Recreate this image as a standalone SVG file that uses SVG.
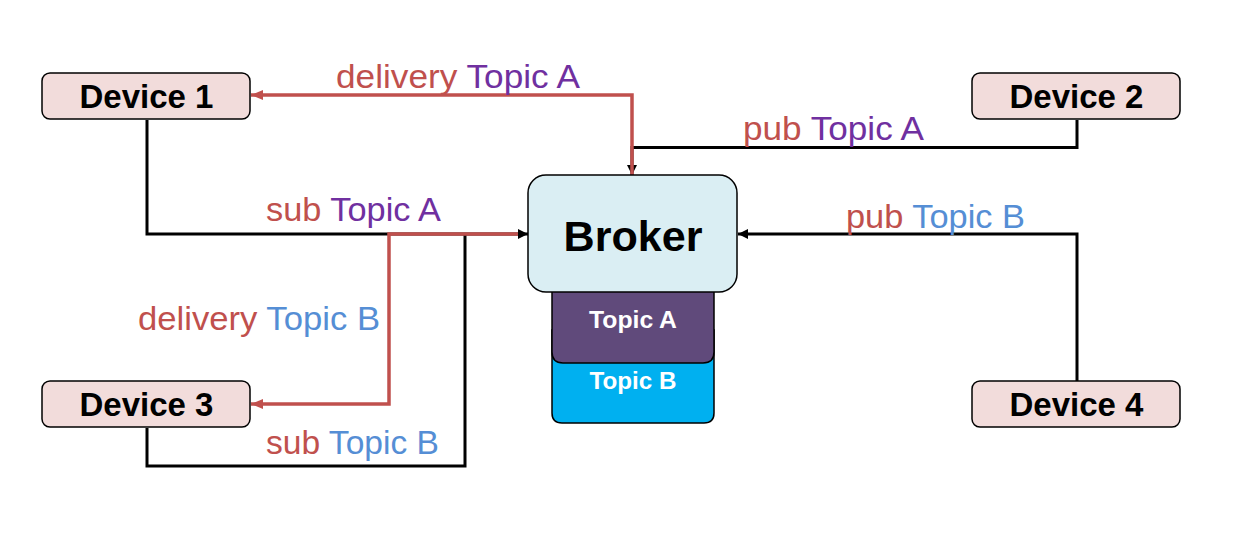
<svg xmlns="http://www.w3.org/2000/svg" width="1234" height="535" viewBox="0 0 1234 535">
  <style>
    .dev { fill: #F2DCDB; stroke: #000; stroke-width: 1.5; }
    .devtxt { font-family: "Liberation Sans", Arial, sans-serif; font-weight: bold; font-size: 33px; fill: #000; text-anchor: middle; }
    .lbl { font-family: "Liberation Sans", Arial, sans-serif; font-size: 33px; }
    .r { fill: #C0504D; }
    .pa { fill: #7030A0; }
    .pb { fill: #558ED5; }
    .blk { fill: none; stroke: #000; stroke-width: 3; stroke-linejoin: miter; }
    .red { fill: none; stroke: #C0504D; stroke-width: 3.5; stroke-linejoin: miter; }
    .topictxt { font-family: "Liberation Sans", Arial, sans-serif; font-weight: bold; font-size: 23px; fill: #fff; text-anchor: middle; }
  </style>
  <defs>
    <marker id="ab" markerUnits="userSpaceOnUse" viewBox="0 0 10 10" refX="10" refY="5" markerWidth="10" markerHeight="10" orient="auto">
      <path d="M0,0 L10,5 L0,10 z" fill="#000"/>
    </marker>
    <marker id="ar" markerUnits="userSpaceOnUse" viewBox="0 0 12 10" refX="12" refY="5" markerWidth="12" markerHeight="10" orient="auto">
      <path d="M0,0 L12,5 L0,10 z" fill="#C0504D"/>
    </marker>
  </defs>

  <g id="connectors">
    <path class="blk" d="M1077,120 V147.5 H632 V175" marker-end="url(#ab)"/>
    <path class="blk" d="M147,120 V234 H528" marker-end="url(#ab)"/>
    <path class="blk" d="M147,428 V466 H465 V234"/>
    <path class="blk" d="M1077,381 V234 H738" marker-end="url(#ab)"/>
    <path class="red" d="M632,175 V95 H251" marker-end="url(#ar)"/>
    <path class="red" d="M518,234 H389 V404 H251" marker-end="url(#ar)"/>
  </g>

  <g id="labels">
    <text class="lbl" x="336" y="88" textLength="244" lengthAdjust="spacingAndGlyphs"><tspan class="r">delivery </tspan><tspan class="pa">Topic A</tspan></text>
    <text class="lbl" x="743" y="140" textLength="181" lengthAdjust="spacingAndGlyphs"><tspan class="r">pub </tspan><tspan class="pa">Topic A</tspan></text>
    <text class="lbl" x="266" y="221" textLength="175" lengthAdjust="spacingAndGlyphs"><tspan class="r">sub </tspan><tspan class="pa">Topic A</tspan></text>
    <text class="lbl" x="846" y="228" textLength="179" lengthAdjust="spacingAndGlyphs"><tspan class="r">pub </tspan><tspan class="pb">Topic B</tspan></text>
    <text class="lbl" x="138" y="330" textLength="242" lengthAdjust="spacingAndGlyphs"><tspan class="r">delivery </tspan><tspan class="pb">Topic B</tspan></text>
    <text class="lbl" x="266" y="454" textLength="173" lengthAdjust="spacingAndGlyphs"><tspan class="r">sub </tspan><tspan class="pb">Topic B</tspan></text>
  </g>

  <g id="device1">
    <rect class="dev" x="42" y="73" width="208" height="46" rx="8"/>
    <text class="devtxt" x="146.5" y="108">Device 1</text>
  </g>
  <g id="device2">
    <rect class="dev" x="972" y="73" width="208" height="46" rx="8"/>
    <text class="devtxt" x="1076.5" y="108">Device 2</text>
  </g>
  <g id="device3">
    <rect class="dev" x="42" y="381" width="208" height="46" rx="8"/>
    <text class="devtxt" x="146.5" y="416">Device 3</text>
  </g>
  <g id="device4">
    <rect class="dev" x="972" y="381" width="208" height="46" rx="8"/>
    <text class="devtxt" x="1076.5" y="416">Device 4</text>
  </g>

  <g id="topicB">
    <path d="M552,330 H714 V413 Q714,423 704,423 H562 Q552,423 552,413 Z" fill="#00B0F0" stroke="#000" stroke-width="1.5"/>
    <text class="topictxt" x="633" y="389" textLength="87" lengthAdjust="spacingAndGlyphs">Topic B</text>
  </g>
  <g id="topicA">
    <path d="M552,280 H714 V352 Q714,363 703,363 H563 Q552,363 552,352 Z" fill="#604A7B" stroke="#000" stroke-width="1.5"/>
    <text class="topictxt" x="633" y="328" textLength="88" lengthAdjust="spacingAndGlyphs">Topic A</text>
  </g>
  <g id="broker">
    <rect x="528" y="175" width="209" height="117" rx="18" fill="#DAEEF3" stroke="#000" stroke-width="1.5"/>
    <text x="633" y="251" font-family="Liberation Sans, Arial, sans-serif" font-weight="bold" font-size="43" text-anchor="middle" textLength="139" lengthAdjust="spacingAndGlyphs">Broker</text>
  </g>
</svg>
